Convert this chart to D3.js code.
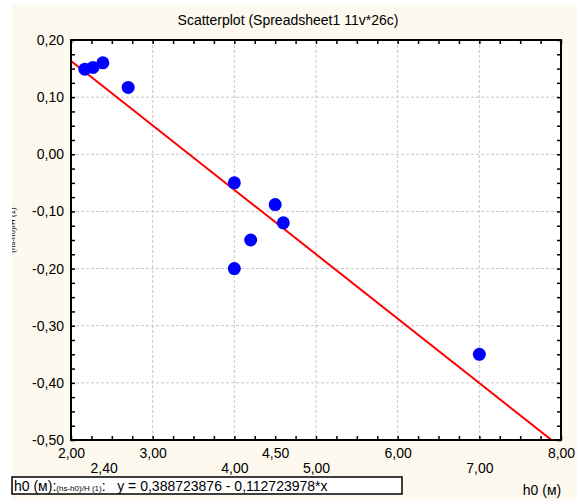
<!DOCTYPE html>
<html><head><meta charset="utf-8">
<script src="https://cdn.jsdelivr.net/npm/d3@7"></script>
<style>
body{margin:0;background:#fff;}
svg{display:block;font-family:Arial,"Liberation Sans",sans-serif;}
</style></head>
<body><div id="chart"></div>
<script>
// ---- data ----
const xValues = [2.17, 2.27, 2.39, 2.70, 4.00, 4.50, 4.60, 4.20, 4.00, 7.00];
const yValues = [0.149, 0.152, 0.160, 0.117, -0.050, -0.088, -0.120, -0.150, -0.200, -0.350];
const xLabelsRow1 = [2.00, 3.00, 4.50, 6.00, 8.00];
const xLabelsRow2 = [2.40, 4.00, 5.00, 7.00];
const xGrid = [3, 4, 5, 6, 7];
const yTicks = [0.20, 0.10, 0.00, -0.10, -0.20, -0.30, -0.40, -0.50];
const fitIntercept = 0.388723876;
const fitSlope = -0.112723978;
const title = "Scatterplot (Spreadsheet1 11v*26c)";
const xTitle = "h0 (м)";
const yTitle = "(hs-h0)/H (1)";

const W = 577, H = 500;
const L = 71, R = 561, T = 40, B = 440;
const cream = "#fdf9ee";
const FS = 14;

const svg = d3.select("#chart").append("svg").attr("width", W).attr("height", H);
svg.append("rect").attr("x", 12).attr("y", 5).attr("width", W - 12).attr("height", H - 5).attr("fill", cream);

const x = d3.scaleLinear().domain([2, 8]).range([L, R]);
const y = d3.scaleLinear().domain([-0.5, 0.2]).range([B, T]);
const fmt = v => d3.format(".2f")(v).replace("−", "-").replace(".", ",");

// plot background
svg.append("rect").attr("x", L).attr("y", T).attr("width", R - L).attr("height", B - T).attr("fill", "#fff");

// grid
const g = svg.append("g");
g.selectAll("line.vg").data(xGrid).join("line")
  .attr("x1", d => x(d)).attr("x2", d => x(d)).attr("y1", T).attr("y2", B)
  .attr("stroke", "#c8c8c8").attr("stroke-dasharray", "3,2").attr("stroke-width", 1);
g.selectAll("line.hg").data(yTicks.slice(1, -1)).join("line")
  .attr("x1", L).attr("x2", R).attr("y1", d => y(d)).attr("y2", d => y(d))
  .attr("stroke", "#c8c8c8").attr("stroke-dasharray", "3,2").attr("stroke-width", 1);

// clip for data
svg.append("clipPath").attr("id", "clip").append("rect")
  .attr("x", L).attr("y", T).attr("width", R - L).attr("height", B - T);

// regression line
svg.append("line").attr("clip-path", "url(#clip)")
  .attr("x1", x(2)).attr("y1", y(fitIntercept + fitSlope * 2))
  .attr("x2", x(8)).attr("y2", y(fitIntercept + fitSlope * 8))
  .attr("stroke", "#ff0000").attr("stroke-width", 2);

// points
svg.append("g").selectAll("circle").data(xValues.map((v, i) => [v, yValues[i]])).join("circle")
  .attr("cx", d => x(d[0])).attr("cy", d => y(d[1])).attr("r", 6.5).attr("fill", "#0000ff");

// minor ticks (inward) via axes
const minorX = d3.range(2, 8.001, 0.25);
const minorY = d3.range(-0.5, 0.2001, 0.025);
function styleAx(sel) { sel.select(".domain").remove(); sel.selectAll("line").attr("stroke", "#000").attr("stroke-width", 1.5); sel.selectAll("text").remove(); }
svg.append("g").attr("transform", `translate(0,${B})`).call(d3.axisTop(x).tickValues(minorX).tickSize(4)).call(styleAx);
svg.append("g").attr("transform", `translate(0,${T})`).call(d3.axisBottom(x).tickValues(minorX).tickSize(4)).call(styleAx);
svg.append("g").attr("transform", `translate(${L},0)`).call(d3.axisRight(y).tickValues(minorY).tickSize(4)).call(styleAx);
svg.append("g").attr("transform", `translate(${R},0)`).call(d3.axisLeft(y).tickValues(minorY).tickSize(4)).call(styleAx);

// frame
svg.append("rect").attr("x", L).attr("y", T).attr("width", R - L).attr("height", B - T)
  .attr("fill", "none").attr("stroke", "#000").attr("stroke-width", 2);

// labels
function styleLab(sel, size) { sel.select(".domain").remove(); sel.selectAll("line").remove(); sel.selectAll("text").attr("fill", "#000").style("font-size", size + "px").style("font-family", "Arial, 'Liberation Sans', sans-serif"); }
svg.append("g").attr("transform", `translate(${L - 3},0)`)
  .call(d3.axisLeft(y).tickValues(yTicks).tickFormat(fmt).tickSize(0).tickPadding(4)).call(styleLab, FS);
svg.append("g").attr("transform", `translate(0,${B})`)
  .call(d3.axisBottom(x).tickValues(xLabelsRow1).tickFormat(fmt).tickSize(0).tickPadding(8)).call(styleLab, FS);
svg.append("g").attr("transform", `translate(0,${B})`)
  .call(d3.axisBottom(x).tickValues(xLabelsRow2).tickFormat(fmt).tickSize(0).tickPadding(23)).call(styleLab, FS);

// title
svg.append("text").attr("x", 288).attr("y", 25).attr("text-anchor", "middle")
  .style("font-size", FS + "px").text(title);

// y title (partially hidden)
svg.append("text").attr("transform", `translate(15,${(T + B) / 2 - 10}) rotate(-90)`)
  .attr("text-anchor", "middle").style("font-size", "8px").attr("fill", "#000").text(yTitle);
svg.append("rect").attr("x", 0).attr("y", 0).attr("width", 12).attr("height", H).attr("fill", "#fff");

// x title
svg.append("text").attr("x", 542).attr("y", 495).attr("text-anchor", "middle")
  .style("font-size", FS + "px").text(xTitle);

// legend box
svg.append("rect").attr("x", 12).attr("y", 477).attr("width", 390).attr("height", 17)
  .attr("fill", "#fff").attr("stroke", "#000").attr("stroke-width", 1.5);
const lt = svg.append("text").attr("x", 14).attr("y", 491).style("font-size", FS + "px").attr("xml:space", "preserve");
lt.append("tspan").text("h0 (м):");
lt.append("tspan").style("font-size", "8px").text("(hs-h0)/H (1)");
lt.append("tspan").text(":   y = 0,388723876 - 0,112723978*x");
</script></body></html>
